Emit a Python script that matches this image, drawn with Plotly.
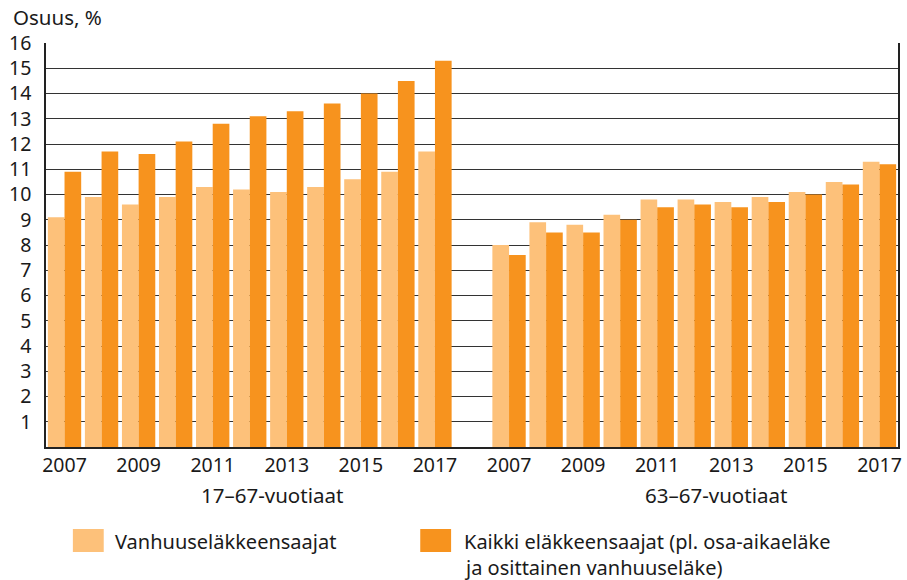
import plotly.graph_objects as go

years = [2007, 2008, 2009, 2010, 2011, 2012, 2013, 2014, 2015, 2016, 2017]
groups = ["17–67-vuotiaat", "63–67-vuotiaat"]
series_names = ["Vanhuuseläkkeensaajat",
                "Kaikki eläkkeensaajat (pl. osa-aikaeläke<br>ja osittainen vanhuuseläke)"]

vanhuus_17_67 = [9.1, 9.9, 9.6, 9.9, 10.3, 10.2, 10.1, 10.3, 10.6, 10.9, 11.7]
kaikki_17_67 = [10.9, 11.7, 11.6, 12.1, 12.8, 13.1, 13.3, 13.6, 14.0, 14.5, 15.3]
vanhuus_63_67 = [8.0, 8.9, 8.8, 9.2, 9.8, 9.8, 9.7, 9.9, 10.1, 10.5, 11.3]
kaikki_63_67 = [7.6, 8.5, 8.5, 9.0, 9.5, 9.6, 9.5, 9.7, 10.0, 10.4, 11.2]

y_ticks = list(range(1, 17))
tick_years = [2007, 2009, 2011, 2013, 2015, 2017]

LIGHT = "#FDC17A"
DARK = "#F7931E"
FONT = "Noto Sans"
FS_TICK = 19.5
FS_TEXT = 20.5
FS_LEGEND = 20

W, H = 907, 580
L, R, T, B = 46, 5, 43, 133
PW, PH = W - L - R, H - T - B

def px(x):
    return (x - L) / PW

def py(y):
    return (T + PH - y) / PH

n = len(years)
offset = n + 1  # one empty slot between groups
x_left = list(range(n))
x_right = [offset + i for i in range(n)]

fig = go.Figure()
fig.add_trace(go.Bar(x=x_left + x_right, y=vanhuus_17_67 + vanhuus_63_67,
                     marker=dict(color=LIGHT, line=dict(width=0)),
                     name=series_names[0]))
fig.add_trace(go.Bar(x=x_left + x_right, y=kaikki_17_67 + kaikki_63_67,
                     marker=dict(color=DARK, line=dict(width=0)),
                     name=series_names[1]))

tickvals = [years.index(y) for y in tick_years] + [offset + years.index(y) for y in tick_years]
ticktext = [str(y) for y in tick_years] * 2

fig.update_layout(
    width=W, height=H,
    margin=dict(l=L, r=R, t=T, b=B, pad=0),
    paper_bgcolor="white", plot_bgcolor="white",
    barmode="group", bargap=0.1, bargroupgap=0,
    showlegend=False,
    font=dict(family=FONT, size=FS_TEXT, color="#1a1a1a"),
    xaxis=dict(range=[-0.5, offset + n - 0.5], tickvals=tickvals, ticktext=ticktext,
               showgrid=False, zeroline=False, showline=True, linecolor="#222",
               linewidth=1.5, ticks="", ticklabelstandoff=0,
               tickfont=dict(family=FONT, size=FS_TICK)),
    yaxis=dict(range=[0, 16], tickvals=y_ticks, showgrid=True, gridcolor="#333",
               gridwidth=1, zeroline=False, showline=True, mirror=True,
               linecolor="#222", linewidth=1.5, ticks="", ticklabelstandoff=9,
               tickfont=dict(family=FONT, size=FS_TICK)),
)

# group labels
for gi, g in enumerate(groups):
    center = gi * offset + (n - 1) / 2 + 0.6
    fig.add_annotation(x=center, xref="x", y=py(495), yref="paper", text=g,
                       showarrow=False, xanchor="center", yanchor="middle",
                       font=dict(family=FONT, size=FS_TEXT))

# y-axis title
fig.add_annotation(x=px(11), y=py(17), xref="paper", yref="paper", text="Osuus, %",
                   showarrow=False, xanchor="left", yanchor="middle",
                   font=dict(family=FONT, size=FS_TEXT))

# legend
legend_items = [(73, 104, 113, LIGHT), (422, 453, 464, DARK)]
for (x0, x1, tx, col), name in zip(legend_items, series_names):
    fig.add_shape(type="rect", xref="paper", yref="paper",
                  x0=px(x0), x1=px(x1), y0=py(552), y1=py(529),
                  fillcolor=col, line=dict(width=0))
    for li, line in enumerate(name.split("<br>")):
        fig.add_annotation(x=px(tx), y=py(541 + 26 * li), xref="paper", yref="paper",
                           text=line, showarrow=False, xanchor="left", yanchor="middle",
                           align="left", font=dict(family=FONT, size=FS_LEGEND))

fig.write_html("out.html", config={"displayModeBar": False},
               post_script="document.body.style.margin='0';document.body.style.overflow='hidden';")
